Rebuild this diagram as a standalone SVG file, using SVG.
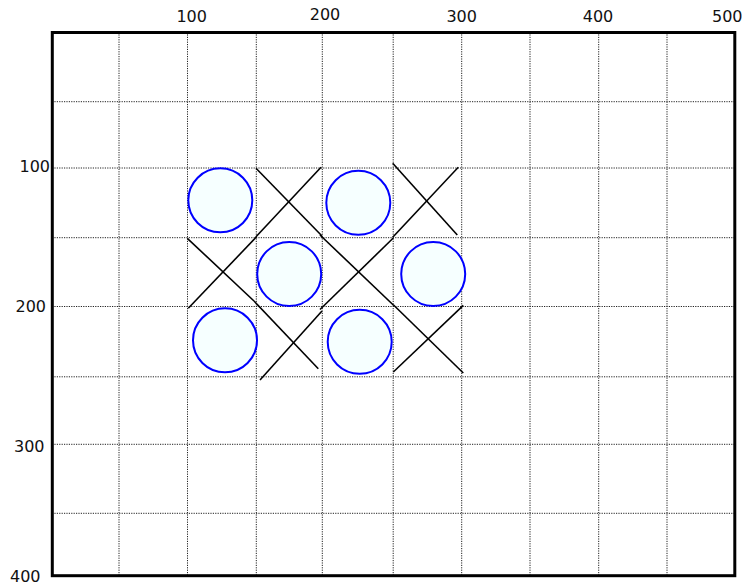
<svg xmlns="http://www.w3.org/2000/svg" width="742" height="588" viewBox="0 0 742 588">
<style>
.grid{stroke:#222;stroke-width:1;stroke-dasharray:1.2 1.2;fill:none}
.frame{stroke:#000;stroke-width:3;fill:none}
.lbl{font-family:"DejaVu Sans",sans-serif;font-size:16px;fill:#111}
.o{fill:#f6ffff;stroke:#0000ff;stroke-width:2}
.x{stroke:#000;stroke-width:1.6;fill:none;stroke-linecap:butt}
</style>
<rect width="742" height="588" fill="#fff"/>
<g id="grid">
<line class="grid" x1="119" y1="32" x2="119" y2="576"/>
<line class="grid" x1="187.5" y1="32" x2="187.5" y2="576"/>
<line class="grid" x1="256.3" y1="32" x2="256.3" y2="576"/>
<line class="grid" x1="322.3" y1="32" x2="322.3" y2="576"/>
<line class="grid" x1="393.2" y1="32" x2="393.2" y2="576"/>
<line class="grid" x1="461.7" y1="32" x2="461.7" y2="576"/>
<line class="grid" x1="530" y1="32" x2="530" y2="576"/>
<line class="grid" x1="598.7" y1="32" x2="598.7" y2="576"/>
<line class="grid" x1="667" y1="32" x2="667" y2="576"/>
<line class="grid" x1="52" y1="101.7" x2="735" y2="101.7"/>
<line class="grid" x1="52" y1="168" x2="735" y2="168"/>
<line class="grid" x1="52" y1="237.7" x2="735" y2="237.7"/>
<line class="grid" x1="52" y1="306.5" x2="735" y2="306.5"/>
<line class="grid" x1="52" y1="376.8" x2="735" y2="376.8"/>
<line class="grid" x1="52" y1="444.3" x2="735" y2="444.3"/>
<line class="grid" x1="52" y1="513.3" x2="735" y2="513.3"/>
</g>
<rect id="frame" class="frame" x="52.3" y="32.5" width="682.5" height="543.2"/>
<g id="labels">
<text class="lbl" x="191.7" y="22" text-anchor="middle">100</text>
<text class="lbl" x="325" y="20" text-anchor="middle">200</text>
<text class="lbl" x="461.7" y="22" text-anchor="middle">300</text>
<text class="lbl" x="598" y="22" text-anchor="middle">400</text>
<text class="lbl" x="712" y="22">500</text>
<text class="lbl" x="50" y="171.7" text-anchor="end">100</text>
<text class="lbl" x="46" y="311.5" text-anchor="end">200</text>
<text class="lbl" x="44.5" y="451.7" text-anchor="end">300</text>
<text class="lbl" x="40.5" y="581.7" text-anchor="end">400</text>
</g>
<g id="x-marks">
<g id="xA"><line class="x" x1="256" y1="168.3" x2="322" y2="236"/><line class="x" x1="321" y1="167.3" x2="256" y2="236.8"/></g>
<g id="xB"><line class="x" x1="392.7" y1="163.3" x2="457.3" y2="235"/><line class="x" x1="458.3" y1="167.3" x2="392.7" y2="237.3"/></g>
<g id="xC"><line class="x" x1="187.3" y1="238.3" x2="254" y2="301"/><line class="x" x1="188.3" y1="308.3" x2="256.5" y2="236.8"/></g>
<g id="xD"><line class="x" x1="320" y1="235" x2="393.3" y2="305"/><line class="x" x1="320" y1="309.5" x2="393.3" y2="238"/></g>
<g id="xE"><line class="x" x1="254" y1="301" x2="318.3" y2="368.7"/><line class="x" x1="260" y1="380" x2="322" y2="311"/></g>
<g id="xF"><line class="x" x1="393.3" y1="304.7" x2="463.3" y2="373"/><line class="x" x1="393.3" y1="372" x2="463.3" y2="305.3"/></g>
</g>
<g id="o-marks">
<circle id="o1" class="o" cx="220.3" cy="200.3" r="32"/>
<circle id="o2" class="o" cx="358.3" cy="202.8" r="32"/>
<circle id="o3" class="o" cx="289.2" cy="274" r="32"/>
<circle id="o4" class="o" cx="433.2" cy="274" r="32"/>
<circle id="o5" class="o" cx="225" cy="340.3" r="32"/>
<circle id="o6" class="o" cx="359.7" cy="341.8" r="32"/>
</g>
</svg>
